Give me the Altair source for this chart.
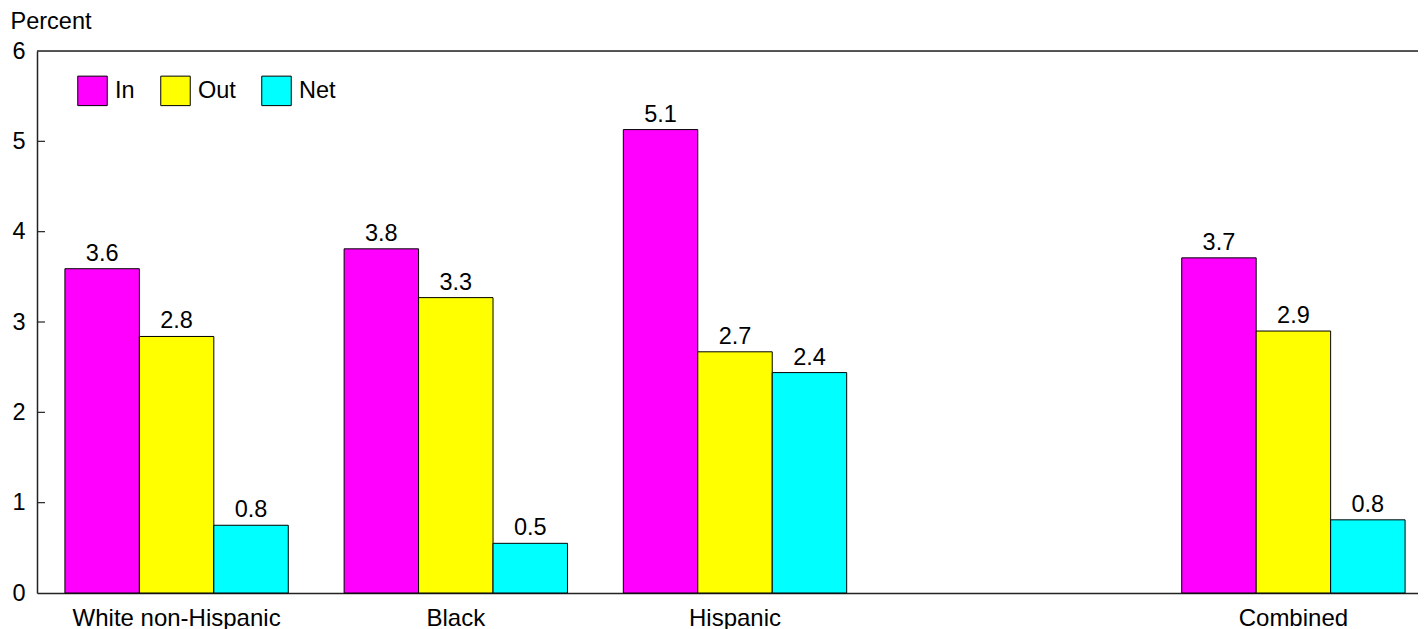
import altair as alt
import pandas as pd

# ---- data ----
categories = ["White non-Hispanic", "Black", "Hispanic", "Combined"]
slots = ["White non-Hispanic", "Black", "Hispanic", " ", "Combined"]
series = ["In", "Out", "Net"]
in_vals = [3.59, 3.81, 5.13, 3.71]
out_vals = [2.84, 3.27, 2.67, 2.90]
net_vals = [0.75, 0.55, 2.44, 0.81]
in_labels = ["3.6", "3.8", "5.1", "3.7"]
out_labels = ["2.8", "3.3", "2.7", "2.9"]
net_labels = ["0.8", "0.5", "2.4", "0.8"]
colors = ["#FF00FF", "#FFFF00", "#00FFFF"]
y_ticks = [1, 2, 3, 4, 5]
y_labels = [0, 1, 2, 3, 4, 5, 6]

rows = []
for vals, labs, s in [(in_vals, in_labels, "In"), (out_vals, out_labels, "Out"), (net_vals, net_labels, "Net")]:
    for c, v, l in zip(categories, vals, labs):
        rows.append({"group": c, "series": s, "value": v, "label": l})
df = pd.DataFrame(rows)

FONT = "Liberation Sans"
FS = 23.5
PLOT_W = 1381
X_RANGE = 1396
PLOT_H = 542

x_enc = alt.X("group:N", sort=slots,
              scale=alt.Scale(domain=slots, range=[0, X_RANGE], paddingInner=0.2, paddingOuter=0.1),
              axis=alt.Axis(title=None, labelAngle=0, ticks=False, labelPadding=32,
                            labelBaseline="alphabetic", labelLimit=0,
                            labelFont=FONT, labelFontSize=24, labelColor="black",
                            domainColor="#222", domainWidth=1.5))
xoff = alt.XOffset("series:N", sort=series, scale=alt.Scale(domain=series, paddingInner=0, paddingOuter=0))
y_enc = alt.Y("value:Q", scale=alt.Scale(domain=[0, 6], nice=False),
              axis=alt.Axis(values=y_labels, format="d", ticks=False, grid=False, labelPadding=12,
                            labelFont=FONT, labelFontSize=FS, labelColor="black",
                            domainColor="#222", domainWidth=1.5,
                            title="Percent", titleAngle=0, titleAlign="left", titleBaseline="alphabetic",
                            titleX=-27, titleY=-23, titleFont=FONT, titleFontSize=FS,
                            titleFontWeight="normal", titleColor="black"))

bars = alt.Chart(df).mark_bar(stroke="black", strokeWidth=1).encode(
    x=x_enc, xOffset=xoff, y=y_enc,
    color=alt.Color("series:N", sort=series,
                    scale=alt.Scale(domain=series, range=colors),
                    legend=alt.Legend(title=None, orient="none", legendX=40, legendY=24,
                                      direction="horizontal", symbolType="square", symbolSize=870,
                                      symbolStrokeColor="black", symbolStrokeWidth=1,
                                      symbolOpacity=1,
                                      labelFont=FONT, labelFontSize=FS, labelColor="black",
                                      labelOffset=7, columnPadding=23, padding=0))
)

texts = alt.Chart(df).mark_text(baseline="alphabetic", dy=-8, font=FONT, fontSize=FS, color="black").encode(
    x=alt.X("group:N", sort=slots), xOffset=xoff, y="value:Q", text="label:N"
)

tick_df = pd.DataFrame({"t": y_ticks})
ticks = alt.Chart(tick_df).mark_rule(color="#222", strokeWidth=1.2).encode(
    y=alt.Y("t:Q"), x=alt.value(0), x2=alt.value(8)
)

top_rule = alt.Chart(pd.DataFrame({"t": [6]})).mark_rule(color="#222", strokeWidth=1.5).encode(
    y=alt.Y("t:Q"), x=alt.value(0), x2=alt.value(X_RANGE)
)

chart = alt.layer(bars, texts, ticks, top_rule).properties(
    width=PLOT_W, height=PLOT_H,
    autosize=alt.AutoSizeParams(type="none"),
    padding={"left": 29, "top": 43, "right": 0, "bottom": 40},
).configure_view(stroke=None).configure(background="white")

chart.save("out.html", embed_options={"renderer": "svg", "actions": False})
